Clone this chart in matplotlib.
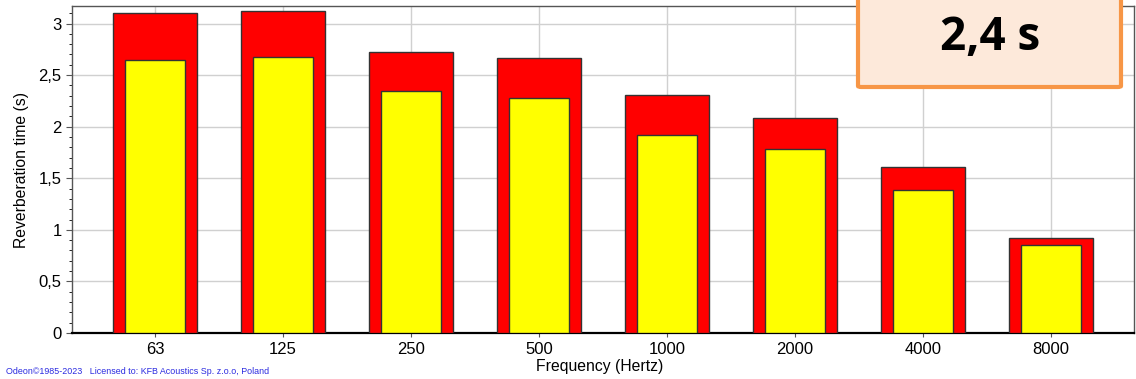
import numpy as np
import matplotlib
matplotlib.use('Agg')
import matplotlib.pyplot as plt
from matplotlib.ticker import MultipleLocator, FuncFormatter
from matplotlib.patches import FancyBboxPatch

plt.rcParams['font.family'] = ['Liberation Sans', 'DejaVu Sans']

# data
bands = ['63', '125', '250', '500', '1000', '2000', '4000', '8000']
t_red = [3.10, 3.12, 2.72, 2.67, 2.31, 2.08, 1.61, 0.925]
t_yellow = [2.65, 2.68, 2.35, 2.28, 1.92, 1.78, 1.39, 0.855]
badge_text = '2,4 s'

fig = plt.figure(figsize=(11.36, 3.79), dpi=100)
ax = fig.add_axes([72/1136, 1 - 333/379, (1134 - 72)/1136, (333 - 6)/379])

x = np.arange(len(bands))
ax.bar(x, t_red, width=0.66, color='#ff0000', edgecolor='#333333', linewidth=1, zorder=3)
ax.bar(x, t_yellow, width=0.47, color='#ffff00', edgecolor='#333333', linewidth=1, zorder=4)

ax.set_xlim(-0.65, 7.65)
ax.set_ylim(0, 3.17)
ax.set_xticks(x)
ax.set_xticklabels(bands)
ax.yaxis.set_major_locator(MultipleLocator(0.5))
ax.yaxis.set_minor_locator(MultipleLocator(0.1))
ax.yaxis.set_major_formatter(FuncFormatter(lambda v, p: ('%g' % v).replace('.', ',')))
ax.grid(True, which='major', color='#d0d0d0', linewidth=1, zorder=0)
ax.tick_params(axis='both', labelsize=12, color='#555555')
ax.tick_params(axis='y', which='major', length=4)
ax.tick_params(axis='y', which='minor', length=2)
ax.tick_params(axis='x', length=3)

for s in ['left', 'right', 'top']:
    ax.spines[s].set_color('#555555')
    ax.spines[s].set_linewidth(1)
ax.spines['bottom'].set_color('black')
ax.spines['bottom'].set_linewidth(1.6)

fig.text(600/1136, 1 - 367/379, 'Frequency (Hertz)', ha='center', va='center', fontsize=11.3)
fig.text(22/1136, 1 - 170/379, 'Reverberation time (s)', ha='center', va='center', rotation=90, fontsize=11.3)
fig.text(6/1136, 1 - 371/379, 'Odeon\u00a91985-2023   Licensed to: KFB Acoustics Sp. z.o.o, Poland',
         ha='left', va='center', fontsize=6.4, color='#2a2ae0')

# the "2,4 s" badge at the top right
badge = FancyBboxPatch((858/1136, 1 - 87/379), (1121 - 858)/1136, 100/379,
                       boxstyle='round,pad=0,rounding_size=0.003', transform=fig.transFigure,
                       facecolor='#fde9da', edgecolor='#f79646', linewidth=3, zorder=10)
fig.add_artist(badge)
fig.text(990/1136, 1 - 37/379, badge_text, ha='center', va='center', fontsize=33,
         fontweight='bold', family=['Open Sans', 'DejaVu Sans'], zorder=11)

fig.savefig('out.png', dpi=100)
